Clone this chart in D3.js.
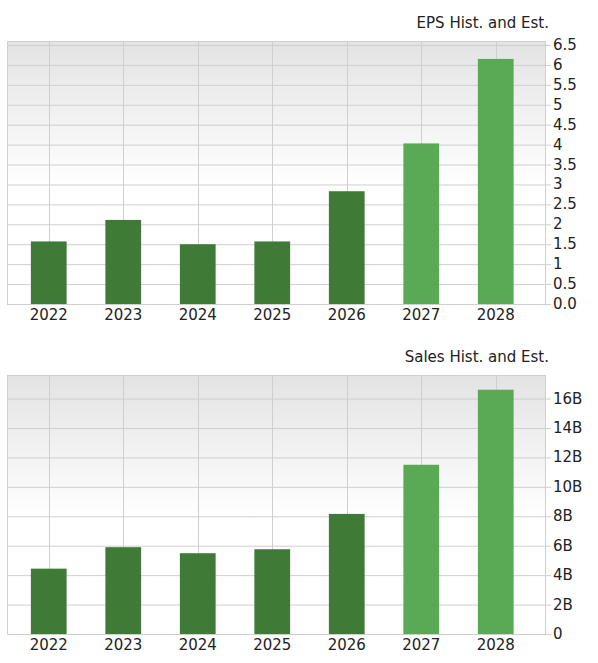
<!DOCTYPE html><html><head><meta charset="utf-8"><script src="https://cdn.jsdelivr.net/npm/d3@7"></script>
<style>body{margin:0;background:#fff}text{font-family:"DejaVu Sans",sans-serif}</style></head><body>
<svg id="c" width="598" height="663"></svg>
<script>
const years=["2022","2023","2024","2025","2026","2027","2028"];
const epsValues=[1.57,2.11,1.50,1.57,2.83,4.03,6.15];
const salesValues=[4.44,5.9,5.49,5.76,8.16,11.5,16.6];
const estimated=[false,false,false,false,false,true,true];
const epsTicks=[0,0.5,1,1.5,2,2.5,3,3.5,4,4.5,5,5.5,6,6.5];
const epsTickLabels=["0.0","0.5","1","1.5","2","2.5","3","3.5","4","4.5","5","5.5","6","6.5"];
const salesTicks=[0,2,4,6,8,10,12,14,16];
const salesTickLabels=["0","2B","4B","6B","8B","10B","12B","14B","16B"];
const svg=d3.select("#c");
const defs=svg.append("defs");
const g=defs.append("linearGradient").attr("id","bg").attr("x1",0).attr("y1",0).attr("x2",0).attr("y2",1);
g.append("stop").attr("offset","0%").attr("stop-color","#e3e3e3");
g.append("stop").attr("offset","55%").attr("stop-color","#ffffff");
g.append("stop").attr("offset","100%").attr("stop-color","#ffffff");
function chart(top,bottom,dmax,vals,ticks,labels,title){
  const L=7,R=545;
  const x=d3.scaleBand().domain(years).range([11.5,533]).paddingInner(0.52).paddingOuter(0.26);
  const y=d3.scaleLinear().domain([0,dmax]).range([bottom,top]);
  const G=svg.append("g");
  G.append("rect").attr("x",L).attr("y",top).attr("width",R-L).attr("height",bottom-top).attr("fill","url(#bg)");
  G.selectAll(".h").data(ticks).join("line").attr("x1",L).attr("x2",R+6).attr("y1",d=>y(d)+0.5).attr("y2",d=>y(d)+0.5).attr("stroke","#cfcfcf");
  G.selectAll(".v").data(years).join("line").attr("x1",d=>Math.round(x(d)+x.bandwidth()/2)+0.5).attr("x2",d=>Math.round(x(d)+x.bandwidth()/2)+0.5).attr("y1",top).attr("y2",bottom).attr("stroke","#cfcfcf");
  G.append("rect").attr("x",L+0.5).attr("y",top+0.5).attr("width",R-L).attr("height",bottom-top).attr("fill","none").attr("stroke","#cfcfcf");
  G.selectAll(".b").data(vals).join("rect").attr("x",(d,i)=>x(years[i])).attr("width",x.bandwidth())
    .attr("y",d=>y(d)).attr("height",d=>bottom-y(d)).attr("fill",(d,i)=>estimated[i]?"#5aaa55":"#3f7a37");
  G.selectAll(".yl").data(ticks).join("text").attr("x",553).attr("y",d=>y(d)+5).attr("font-size",15).attr("fill","#222").text((d,i)=>labels[i]);
  G.selectAll(".xl").data(years).join("text").attr("x",d=>x(d)+x.bandwidth()/2).attr("y",bottom+16).attr("text-anchor","middle").attr("font-size",15).attr("fill","#222").text(d=>d);
  G.append("text").attr("x",549).attr("y",top-13).attr("text-anchor","end").attr("font-size",15).attr("fill","#222").text(title);
}
chart(41,304,6.6,epsValues,epsTicks,epsTickLabels,"EPS Hist. and Est.");
chart(375,634,17.6,salesValues,salesTicks,salesTickLabels,"Sales Hist. and Est.");
</script></body></html>
